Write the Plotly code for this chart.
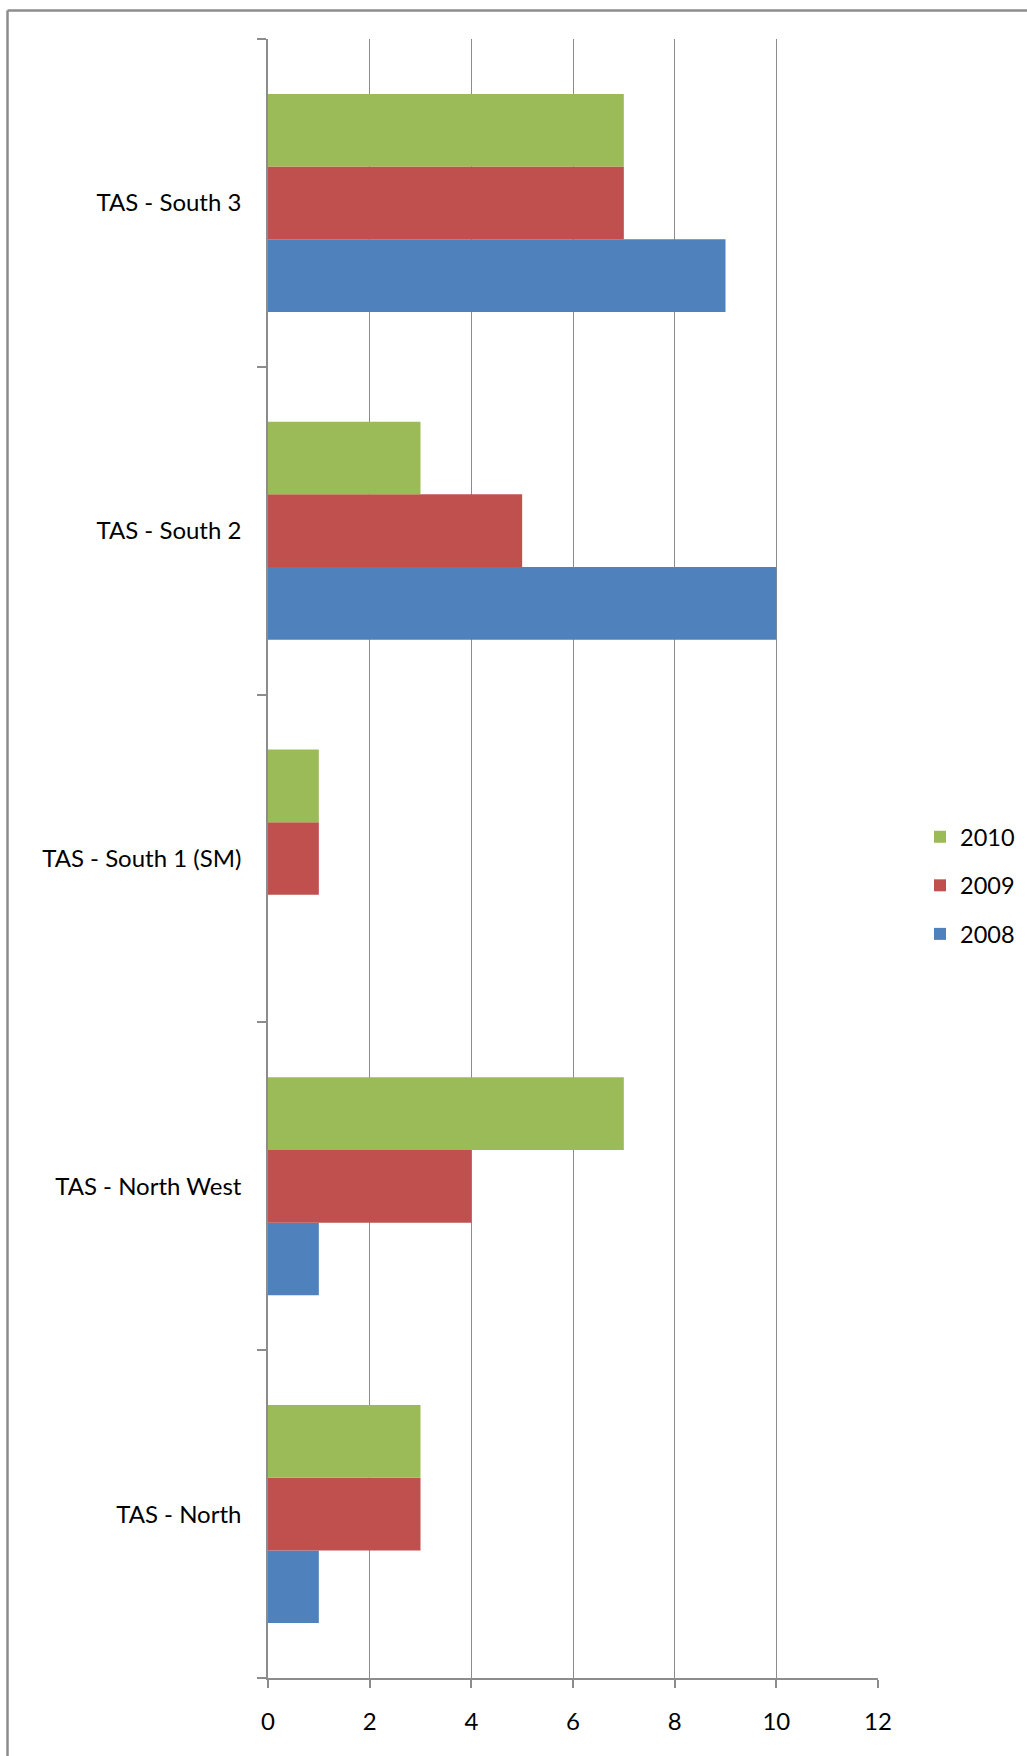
import plotly.graph_objects as go

categories = ["TAS - North", "TAS - North West", "TAS - South 1 (SM)", "TAS - South 2", "TAS - South 3"]
series_names = ["2008", "2009", "2010"]
values_2008 = [1, 1, 0, 10, 9]
values_2009 = [3, 4, 1, 5, 7]
values_2010 = [3, 7, 1, 3, 7]
x_ticks = [0, 2, 4, 6, 8, 10, 12]

colors = {"2008": "#4F81BD", "2009": "#C0504D", "2010": "#9BBB59"}
series_values = {"2008": values_2008, "2009": values_2009, "2010": values_2010}
legend_rank = {"2010": 1, "2009": 2, "2008": 3}

W, H = 1027, 1756
ml, mr, mt, mb = 268, 149, 39, 78
pw, ph = W - ml - mr, H - mt - mb

fig = go.Figure()
for name in series_names:
    fig.add_trace(go.Bar(
        y=categories, x=series_values[name], name=name, orientation="h",
        marker=dict(color=colors[name], line=dict(width=0)),
        legendgroup=name, legendrank=legend_rank[name],
    ))

FONT = "Lato"
grey = "#8c8c8c"

def px_x(p):
    return (p - ml) / pw

def px_y(p):
    return 1 - (p - mt) / ph

fig.update_layout(
    width=W, height=H,
    margin=dict(l=ml, r=mr, t=mt, b=mb, autoexpand=False),
    paper_bgcolor="white", plot_bgcolor="white",
    barmode="group", bargap=0.335, bargroupgap=0,
    font=dict(family=FONT, size=24, color="#000000"),
    showlegend=True,
    legend=dict(
        x=px_x(920), y=px_y(815), xanchor="left", yanchor="top",
        traceorder="grouped", tracegroupgap=15,
        font=dict(family=FONT, size=23.5, color="#000000"),
        bgcolor="rgba(0,0,0,0)",
    ),
    xaxis=dict(
        range=[0, 12], tickvals=x_ticks, ticktext=[str(v) for v in x_ticks],
        showgrid=True, gridcolor=grey, gridwidth=1,
        showline=True, linecolor=grey, linewidth=1.5,
        ticks="outside", ticklen=8, tickcolor=grey, tickwidth=1.5,
        ticklabelstandoff=13, zeroline=False, fixedrange=True,
        tickfont=dict(family=FONT, size=24, color="#000000"),
    ),
    yaxis=dict(
        categoryorder="array", categoryarray=categories,
        showgrid=False, showline=True, linecolor=grey, linewidth=1.5,
        ticks="outside", tickson="boundaries", ticklen=9, tickcolor=grey, tickwidth=1.5,
        ticklabelstandoff=20, zeroline=False, fixedrange=True, automargin=False,
        tickfont=dict(family=FONT, size=24, color="#000000"),
    ),
    shapes=[
        dict(type="line", xref="paper", yref="paper",
             x0=px_x(7.5), x1=px_x(1040), y0=px_y(10.5), y1=px_y(10.5),
             line=dict(color=grey, width=2.5)),
        dict(type="line", xref="paper", yref="paper",
             x0=px_x(7.5), x1=px_x(7.5), y0=px_y(10.5), y1=px_y(1770),
             line=dict(color=grey, width=2.5)),
    ],
)

fig.write_html(
    "out.html",
    config={"displayModeBar": False},
    post_script="document.body.style.margin='0';document.body.style.overflow='hidden';",
)
